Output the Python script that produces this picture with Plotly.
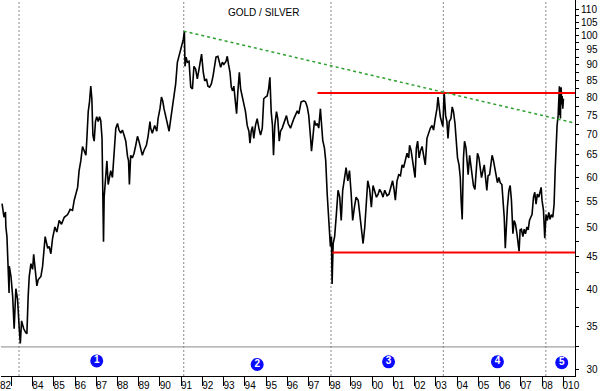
import math
import plotly.graph_objects as go

# ---- data (decimal year, gold/silver ratio) ----
years = [
1982.56,1982.60,1982.65,1982.72,1982.74,1982.79,1982.85,1982.89,1982.90,1982.98,
1983.06,1983.13,1983.21,1983.29,1983.37,1983.42,1983.48,1983.58,1983.68,1983.73,
1983.79,1983.84,1983.92,1984.00,1984.05,1984.11,1984.20,1984.26,1984.39,1984.47,
1984.55,1984.59,1984.71,1984.78,1984.86,1984.94,1985.05,1985.14,1985.25,1985.36,
1985.49,1985.65,1985.77,1985.88,1985.96,1986.04,1986.12,1986.19,1986.27,1986.35,
1986.43,1986.51,1986.55,1986.62,1986.68,1986.74,1986.79,1986.84,1986.90,1986.96,
1987.02,1987.09,1987.15,1987.21,1987.27,1987.31,1987.34,1987.37,1987.43,1987.50,
1987.56,1987.62,1987.68,1987.76,1987.84,1987.92,1988.00,1988.07,1988.15,1988.23,
1988.31,1988.39,1988.47,1988.52,1988.56,1988.62,1988.70,1988.78,1988.86,1988.94,
1989.01,1989.09,1989.17,1989.25,1989.36,1989.44,1989.53,1989.56,1989.64,1989.75,
1989.85,1989.91,1990.00,1990.07,1990.13,1990.19,1990.27,1990.35,1990.43,1990.51,
1990.59,1990.66,1990.74,1990.82,1990.90,1990.98,1991.06,1991.10,1991.15,1991.18,
1991.23,1991.29,1991.37,1991.45,1991.53,1991.60,1991.68,1991.76,1991.84,1991.92,
1991.96,1992.04,1992.11,1992.19,1992.26,1992.34,1992.42,1992.50,1992.58,1992.64,
1992.73,1992.80,1992.86,1992.94,1993.01,1993.11,1993.17,1993.23,1993.30,1993.36,
1993.42,1993.48,1993.55,1993.61,1993.67,1993.74,1993.80,1993.88,1993.95,1994.03,
1994.11,1994.19,1994.24,1994.30,1994.36,1994.42,1994.50,1994.58,1994.66,1994.74,
1994.82,1994.89,1994.97,1995.05,1995.12,1995.18,1995.24,1995.30,1995.35,1995.41,
1995.49,1995.55,1995.62,1995.68,1995.76,1995.87,1995.96,1996.04,1996.15,1996.31,
1996.47,1996.54,1996.65,1996.78,1996.86,1996.94,1997.01,1997.09,1997.14,1997.20,
1997.28,1997.34,1997.41,1997.48,1997.56,1997.61,1997.67,1997.75,1997.81,1997.88,
1997.94,1997.99,1998.03,1998.08,1998.11,1998.16,1998.23,1998.31,1998.39,1998.47,
1998.54,1998.61,1998.69,1998.77,1998.85,1998.93,1999.01,1999.08,1999.16,1999.24,
1999.34,1999.41,1999.49,1999.57,1999.65,1999.73,1999.79,1999.88,1999.96,2000.04,
2000.12,2000.20,2000.28,2000.35,2000.43,2000.51,2000.59,2000.70,2000.79,2000.89,
2000.96,2001.03,2001.09,2001.17,2001.25,2001.33,2001.41,2001.48,2001.56,2001.64,
2001.72,2001.76,2001.83,2001.89,2001.95,2002.02,2002.08,2002.14,2002.21,2002.27,
2002.35,2002.42,2002.50,2002.58,2002.66,2002.74,2002.82,2002.89,2002.97,2003.05,
2003.10,2003.16,2003.21,2003.29,2003.33,2003.39,2003.46,2003.52,2003.57,2003.63,
2003.71,2003.77,2003.83,2003.90,2003.96,2004.02,2004.09,2004.15,2004.19,2004.24,
2004.30,2004.35,2004.42,2004.46,2004.52,2004.59,2004.65,2004.71,2004.77,2004.84,
2004.90,2004.96,2005.03,2005.09,2005.15,2005.22,2005.28,2005.34,2005.40,2005.46,
2005.53,2005.59,2005.65,2005.71,2005.78,2005.84,2005.90,2005.97,2006.03,2006.11,
2006.16,2006.22,2006.27,2006.31,2006.37,2006.44,2006.50,2006.56,2006.63,2006.69,
2006.75,2006.82,2006.88,2006.92,2006.97,2007.03,2007.10,2007.16,2007.22,2007.29,
2007.35,2007.41,2007.47,2007.53,2007.60,2007.66,2007.72,2007.78,2007.85,2007.91,
2007.96,2008.00,2008.07,2008.13,2008.19,2008.25,2008.32,2008.38,2008.44,2008.51,
2008.57,2008.62,2008.66,2008.71,2008.76,2008.79,2008.82,2008.84,2008.855,2008.87,
2008.885,2008.90,2008.93,2008.95,2008.98,2009.01]

ratio = [
54.5,53.2,51.9,52.9,50.1,48.4,43.9,39.5,43.5,41.9,
39.0,34.7,40.1,38.6,34.7,32.9,35.7,34.7,34.2,34.1,
39.0,41.9,43.9,43.0,45.4,43.5,40.5,41.4,41.9,43.5,
47.2,48.4,46.4,46.7,45.5,48.1,50.1,49.2,51.3,50.6,
51.9,52.4,53.4,53.2,55.2,56.3,57.8,61.4,63.6,67.0,
66.1,64.9,68.3,76.0,78.7,83.3,79.6,69.8,68.3,73.3,
74.6,73.3,74.6,73.6,69.0,57.2,47.5,55.8,59.2,63.6,
58.4,60.5,61.4,59.9,64.9,71.6,72.8,71.1,70.3,71.1,
69.8,68.3,64.7,63.6,58.4,64.9,64.3,65.4,67.3,69.5,
68.3,66.6,64.9,66.1,67.3,69.5,73.3,71.6,70.3,72.3,
70.8,74.1,76.8,80.1,79.0,76.8,74.6,73.3,70.8,74.1,
77.6,80.4,84.0,90.8,92.8,94.5,96.8,98.6,101.6,89.5,
92.5,90.8,91.1,83.0,82.5,89.5,88.6,85.5,88.6,91.8,
93.5,87.6,84.9,85.5,83.3,83.0,84.0,86.4,90.8,92.5,
92.8,90.8,89.2,90.8,90.1,91.1,92.8,90.1,87.6,83.0,
81.9,83.3,78.7,75.4,81.6,87.6,82.5,80.1,77.6,76.0,
72.3,70.8,67.8,70.8,72.0,69.0,72.3,74.1,71.6,69.8,
71.6,79.6,80.1,80.4,82.5,86.0,76.0,72.3,64.9,72.3,
76.0,74.1,68.3,70.8,71.6,73.3,74.9,72.8,71.6,74.1,
76.2,75.4,78.7,79.0,78.7,77.3,74.9,69.5,65.9,69.0,
73.6,72.3,72.8,71.6,76.8,72.8,68.5,66.6,63.6,56.4,
51.9,50.1,46.7,48.4,40.8,47.2,48.4,52.4,57.2,55.8,
51.3,57.2,59.2,62.1,59.2,61.4,56.4,51.3,53.8,55.8,
55.2,52.4,49.7,47.2,50.1,55.2,59.2,57.4,53.8,58.2,
57.2,55.8,56.4,57.4,56.8,55.8,57.2,56.1,56.4,57.8,
59.2,57.4,55.2,59.2,60.5,60.3,62.7,62.1,63.8,65.4,
64.3,67.3,66.1,64.3,62.1,59.9,66.6,68.3,64.3,65.9,
67.0,64.9,62.7,69.0,70.3,71.6,72.3,71.1,74.1,76.8,
80.1,76.8,74.6,72.8,72.0,81.6,74.9,73.3,69.0,73.3,
74.1,77.3,76.0,72.8,68.3,64.3,62.7,59.9,55.2,51.5,
64.3,68.3,66.6,64.3,60.5,64.9,62.1,60.5,58.2,57.4,
62.7,65.4,64.3,62.1,59.9,61.4,62.7,59.9,57.2,60.3,
60.5,62.7,64.9,63.8,62.1,59.9,58.8,59.9,58.8,58.4,
55.8,51.9,46.4,50.1,53.8,57.2,58.2,55.2,48.9,51.3,
50.6,48.9,47.5,45.9,49.6,49.7,48.4,49.7,48.9,50.1,
49.6,51.3,51.9,52.4,55.8,56.8,54.4,56.4,55.8,57.2,
57.8,55.2,53.2,48.1,52.4,51.3,52.8,51.5,52.4,51.9,
54.4,61.4,67.3,72.3,74.9,81.6,83.3,75.0,82.5,74.1,
81.0,83.0,78.0,80.4,76.8,79.6]

# annotation lines
resistance_start, resistance_level = 1997.42, 81.3
support_start, support_level = 1998.12, 45.7
trend_x = [1991.12, 2009.555]
trend_y = [101.6, 72.9]
phase_lines = [1983.36, 1991.12, 1998.06, 2003.35, 2008.18]
band_level = 32.5
phase_labels = ["1", "2", "3", "4", "5"]
phase_x = [1987.02, 1994.58, 2000.77, 2005.90, 2008.93]
phase_y = [30.9, 30.5, 30.8, 30.8, 30.7]

x_range = [1982.51, 2009.555]
y_min, y_max = 29.26, 113.7

tick_years = list(range(1983, 2010))
label_text = ["82"] + ["%02d" % (y % 100) for y in range(1984, 2009)] + ["010"]
label_pos = [1982.72] + [y + 0.25 for y in range(1984, 2009)] + [2009.36]

y_ticks = list(range(30, 115, 5))
y_minor = [v + 2.5 for v in range(30, 110, 5)]
y_text = [("\u2007" + str(v)) if v < 100 else str(v) for v in y_ticks]

FONT = "Liberation Sans Narrow, Liberation Sans, Arial, sans-serif"

fig = go.Figure()

fig.add_trace(go.Scatter(x=years, y=ratio, mode="lines",
                         line=dict(color="black", width=1.6), hoverinfo="skip"))
fig.add_trace(go.Scatter(x=[x_range[0], x_range[1]], y=[band_level, band_level], mode="lines",
                         line=dict(color="#8a8a8a", width=1), hoverinfo="skip"))
fig.add_trace(go.Scatter(x=[resistance_start, x_range[1]], y=[resistance_level, resistance_level],
                         mode="lines", line=dict(color="#ff0000", width=2), hoverinfo="skip"))
fig.add_trace(go.Scatter(x=[support_start, x_range[1]], y=[support_level, support_level],
                         mode="lines", line=dict(color="#ff0000", width=2), hoverinfo="skip"))
fig.add_trace(go.Scatter(x=trend_x, y=trend_y, mode="lines",
                         line=dict(color="#2ea02e", width=1.5, dash="3px,3px"), hoverinfo="skip"))
fig.add_trace(go.Scatter(x=phase_x, y=phase_y, mode="markers+text", text=phase_labels,
                         textposition="middle center",
                         textfont=dict(family="Liberation Sans, Arial", size=10, color="white",
                                       weight="bold"),
                         marker=dict(size=13, color="#0a0aff", line=dict(width=0)),
                         hoverinfo="skip"))

for px in phase_lines:
    fig.add_shape(type="line", xref="x", yref="paper", x0=px, x1=px, y0=0, y1=1,
                  line=dict(color="#8a8a8a", width=1, dash="2px,2px"), layer="below")

fig.add_annotation(text="GOLD / SILVER", xref="paper", yref="paper", x=0.459, y=0.967,
                   showarrow=False, xanchor="center", yanchor="middle",
                   font=dict(family="Liberation Sans, Arial", size=10, color="black"))

fig.update_layout(
    width=600, height=391,
    margin=dict(l=0, r=25, t=0, b=10),
    paper_bgcolor="white", plot_bgcolor="white",
    showlegend=False,
    xaxis=dict(range=x_range, showgrid=False, zeroline=False,
               showline=True, linecolor="black", linewidth=1,
               tickmode="array", tickvals=label_pos, ticktext=label_text, ticks="",
               ticklabeloverflow="allow",
               tickfont=dict(family=FONT, size=10, color="black"),
               minor=dict(tickmode="array", tickvals=tick_years, ticks="outside",
                          ticklen=9, tickcolor="black", tickwidth=1, showgrid=False)),
    yaxis=dict(type="log", side="right", range=[math.log10(y_min), math.log10(y_max)],
               showgrid=False, zeroline=False,
               showline=True, linecolor="black", linewidth=1,
               tickmode="array", tickvals=y_ticks, ticktext=y_text, ticks="outside",
               ticklen=3, tickcolor="black",
               tickfont=dict(family=FONT, size=10, color="black"),
               minor=dict(tickmode="array", tickvals=y_minor, ticks="outside",
                          ticklen=3, tickcolor="black", showgrid=False)),
)

fig.write_html("out.html", config={"displayModeBar": False},
               post_script="document.body.style.margin='0px';document.body.style.overflow='hidden';")
